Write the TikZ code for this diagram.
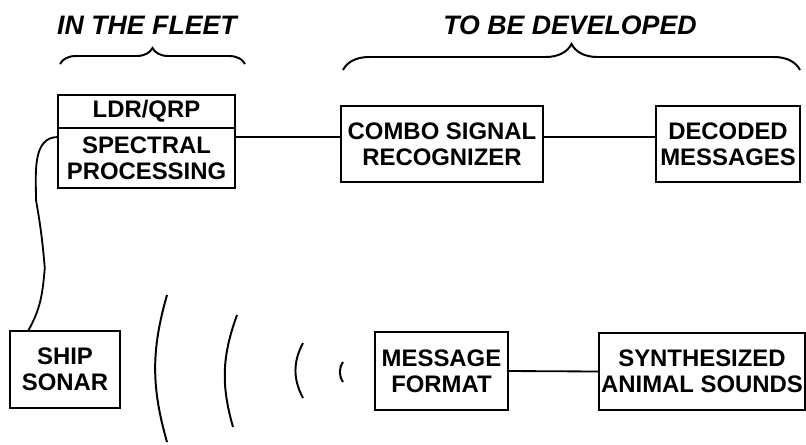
\documentclass[tikz,border=0pt]{standalone}
\usepackage{fontspec}
\setmainfont{Liberation Sans}
\usetikzlibrary{calc,positioning,decorations.pathreplacing}
\tikzset{
	box/.style={draw, line width=1.4pt, outer sep=0pt, inner sep=0pt, align=center, font=\bfseries\fontsize{17}{18.5}\selectfont},
	head/.style={font=\bfseries\itshape\fontsize{19}{21}\selectfont},
	brc/.style={decorate, line width=1.4pt, decoration={brace, amplitude=#1}},
	link/.style={line width=1.3pt},
	wave/.style={line width=1.4pt}
}

\begin{document}
\begin{tikzpicture}
			%%%%% START %%%%%
			\useasboundingbox (0, 0) rectangle (20.15, -11.1);
			
			\node[head] (fleet) at (3.675, -0.625) {IN THE FLEET};
			\node[head] (todo) at (14.25, -0.625) {TO BE DEVELOPED};
			\draw[brc=0.4cm] (1.5, -1.6) -- (6.125, -1.6);
			\draw[brc=0.65cm] (8.575, -1.75) -- (20, -1.75);
			
			\node[box, minimum width=4.425cm, minimum height=0.825cm] (ldr) at (3.6625, -2.7875) {LDR/QRP};
			\node[box, minimum width=4.425cm, minimum height=1.5cm, below=0pt of ldr] (spec) {SPECTRAL\\PROCESSING};
			\node[box, minimum width=5.05cm, minimum height=1.9cm] (combo) at (11.05, -3.6) {COMBO SIGNAL\\RECOGNIZER};
			\node[box, minimum width=3.6cm, minimum height=1.9cm] (dec) at (18.2, -3.6) {DECODED\\MESSAGES};
			
			\node[box, minimum width=2.75cm, minimum height=1.925cm] (sonar) at (1.625, -9.2375) {SHIP\\SONAR};
			\node[box, minimum width=3.325cm, minimum height=1.95cm] (fmt) at (11.0375, -9.275) {MESSAGE\\FORMAT};
			\node[box, minimum width=5.15cm, minimum height=1.925cm] (syn) at (17.55, -9.2875) {SYNTHESIZED\\ANIMAL SOUNDS};
			
			\coordinate (t1) at ($(spec.east)+(0, 0.525)$);
			\coordinate (c1) at ($(sonar.north west)+(0.45, 0)$);
			\draw[link] (t1) -- (combo.west |- t1);
			\draw[link] (combo.east |- t1) -- (dec.west |- t1);
			\draw[link] (fmt.east) -- (syn.west);
			\draw[link] (spec.west |- t1) to[out=180, in=90] (0.9, -5) to[out=-80, in=95] (1.12, -6.7) to[out=-95, in=60] (c1);
			
			\draw[wave] (4.175, -7.375) to[bend right=16] (4.175, -11.05);
			\draw[wave] (5.925, -7.875) to[bend right=18] (5.825, -10.675);
			\draw[wave] (7.575, -8.575) to[bend right=28] (7.575, -9.95);
			\draw[wave] (8.575, -9.05) to[bend right=33] (8.575, -9.55);
			
			%%%%% END %%%%%
\end{tikzpicture}
\end{document}
